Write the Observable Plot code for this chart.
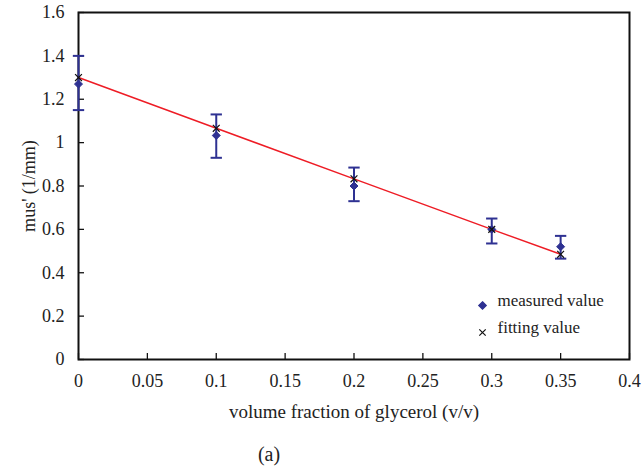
<!DOCTYPE html>
<html><head><meta charset="utf-8">
<script src="https://cdn.jsdelivr.net/npm/d3@7"></script>
<script src="https://cdn.jsdelivr.net/npm/@observablehq/plot@0.6"></script>
<style>
body{margin:0;background:#fff;font-family:"Liberation Serif",serif;}
#wrap{position:relative;width:642px;height:474px;}
#cap{position:absolute;left:0;width:538px;top:443px;text-align:center;font-size:20px;color:#222;}
</style></head><body>
<div id="wrap"><div id="chart"></div><div id="cap">(a)</div></div>
<script>
const fractions = [0, 0.1, 0.2, 0.3, 0.35];
const measured = [1.27, 1.033, 0.80, 0.60, 0.52];
const errLow   = [1.15, 0.93, 0.73, 0.535, 0.465];
const errHigh  = [1.40, 1.13, 0.885, 0.65, 0.57];
const fitted   = [1.30, 1.066, 0.833, 0.60, 0.485];
const xTicks = [0, 0.05, 0.1, 0.15, 0.2, 0.25, 0.3, 0.35, 0.4];
const yTicks = [0, 0.2, 0.4, 0.6, 0.8, 1, 1.2, 1.4, 1.6];
const legendLabels = ["measured value", "fitting value"];
const legendSymbols = ["diamond2", "times"];

const rows = fractions.map((f, i) => ({f, m: measured[i], lo: errLow[i], hi: errHigh[i], fit: fitted[i]}));
const blue = "#2e3192", red = "#ee1c25";
const FONT = "Liberation Serif";
const capSymbol = {draw(ctx, size) { const w = Math.sqrt(size) * 0.8; ctx.moveTo(-w, 0); ctx.lineTo(w, 0); }};
const W = 642, H = 440, mL = 78, mR = 13, mT = 12, mB = 81;
const pw = W - mL - mR, ph = H - mT - mB;
const fmt = d => String(d);
const legendMarks = legendLabels.flatMap((k, i) => [
  Plot.dot([k], {frameAnchor: "bottom-right", dx: -147, dy: -54 + 27 * i, symbol: legendSymbols[i], r: i === 0 ? 3.4 : 3,
    fill: i === 0 ? blue : "none", stroke: i === 0 ? blue : "#111", strokeWidth: 1.2}),
  Plot.text([k], {frameAnchor: "bottom-right", dx: -132, dy: -54 + 27 * i, text: d => d, textAnchor: "start",
    fontFamily: FONT, fontSize: 17, fill: "#222"})
]);

const chart = Plot.plot({
  width: W, height: H, marginLeft: mL, marginRight: mR, marginTop: mT, marginBottom: mB,
  style: {fontFamily: FONT, fontSize: "18px", color: "#222", background: "white"},
  x: {domain: [0, 0.4]},
  y: {domain: [0, 1.6]},
  marks: [
    Plot.axisX({ticks: xTicks, tickFormat: fmt, tickSize: 0, tickPadding: 15, fontFamily: FONT, fontSize: 18, label: null}),
    Plot.axisX({ticks: [], label: "volume fraction of glycerol (v/v)", labelAnchor: "center", labelArrow: "none", labelOffset: 58, fontFamily: FONT, fontSize: 19}),
    Plot.axisY({ticks: yTicks, tickFormat: fmt, tickSize: 0, tickPadding: 14, fontFamily: FONT, fontSize: 18, label: "mus' (1/mm)", labelAnchor: "center", labelArrow: "none", labelOffset: 56}),
    Plot.tickX(xTicks, {x: d => d, stroke: "#111", strokeWidth: 1.3, insetTop: ph - 6}),
    Plot.tickY(yTicks, {y: d => d, stroke: "#111", strokeWidth: 1.3, insetRight: pw - 6}),
    Plot.frame({stroke: "#111", strokeWidth: 2}),
    Plot.line(rows, {x: "f", y: "fit", stroke: red, strokeWidth: 1.5}),
    Plot.ruleX(rows, {x: "f", y1: "lo", y2: "hi", stroke: blue, strokeWidth: 2}),
    Plot.dot(rows, {x: "f", y: "lo", symbol: capSymbol, r: 4, stroke: blue, strokeWidth: 2}),
    Plot.dot(rows, {x: "f", y: "hi", symbol: capSymbol, r: 4, stroke: blue, strokeWidth: 2}),
    Plot.dot(rows, {x: "f", y: "m", symbol: "diamond2", r: 3.6, fill: blue, stroke: blue, strokeWidth: 1}),
    Plot.dot(rows, {x: "f", y: "fit", symbol: "times", r: 3.2, stroke: "#111", strokeWidth: 1.2}),
    ...legendMarks
  ]
});
d3.select(chart).selectAll("text").style("font-family", FONT);
document.getElementById("chart").appendChild(chart);
</script></body></html>
